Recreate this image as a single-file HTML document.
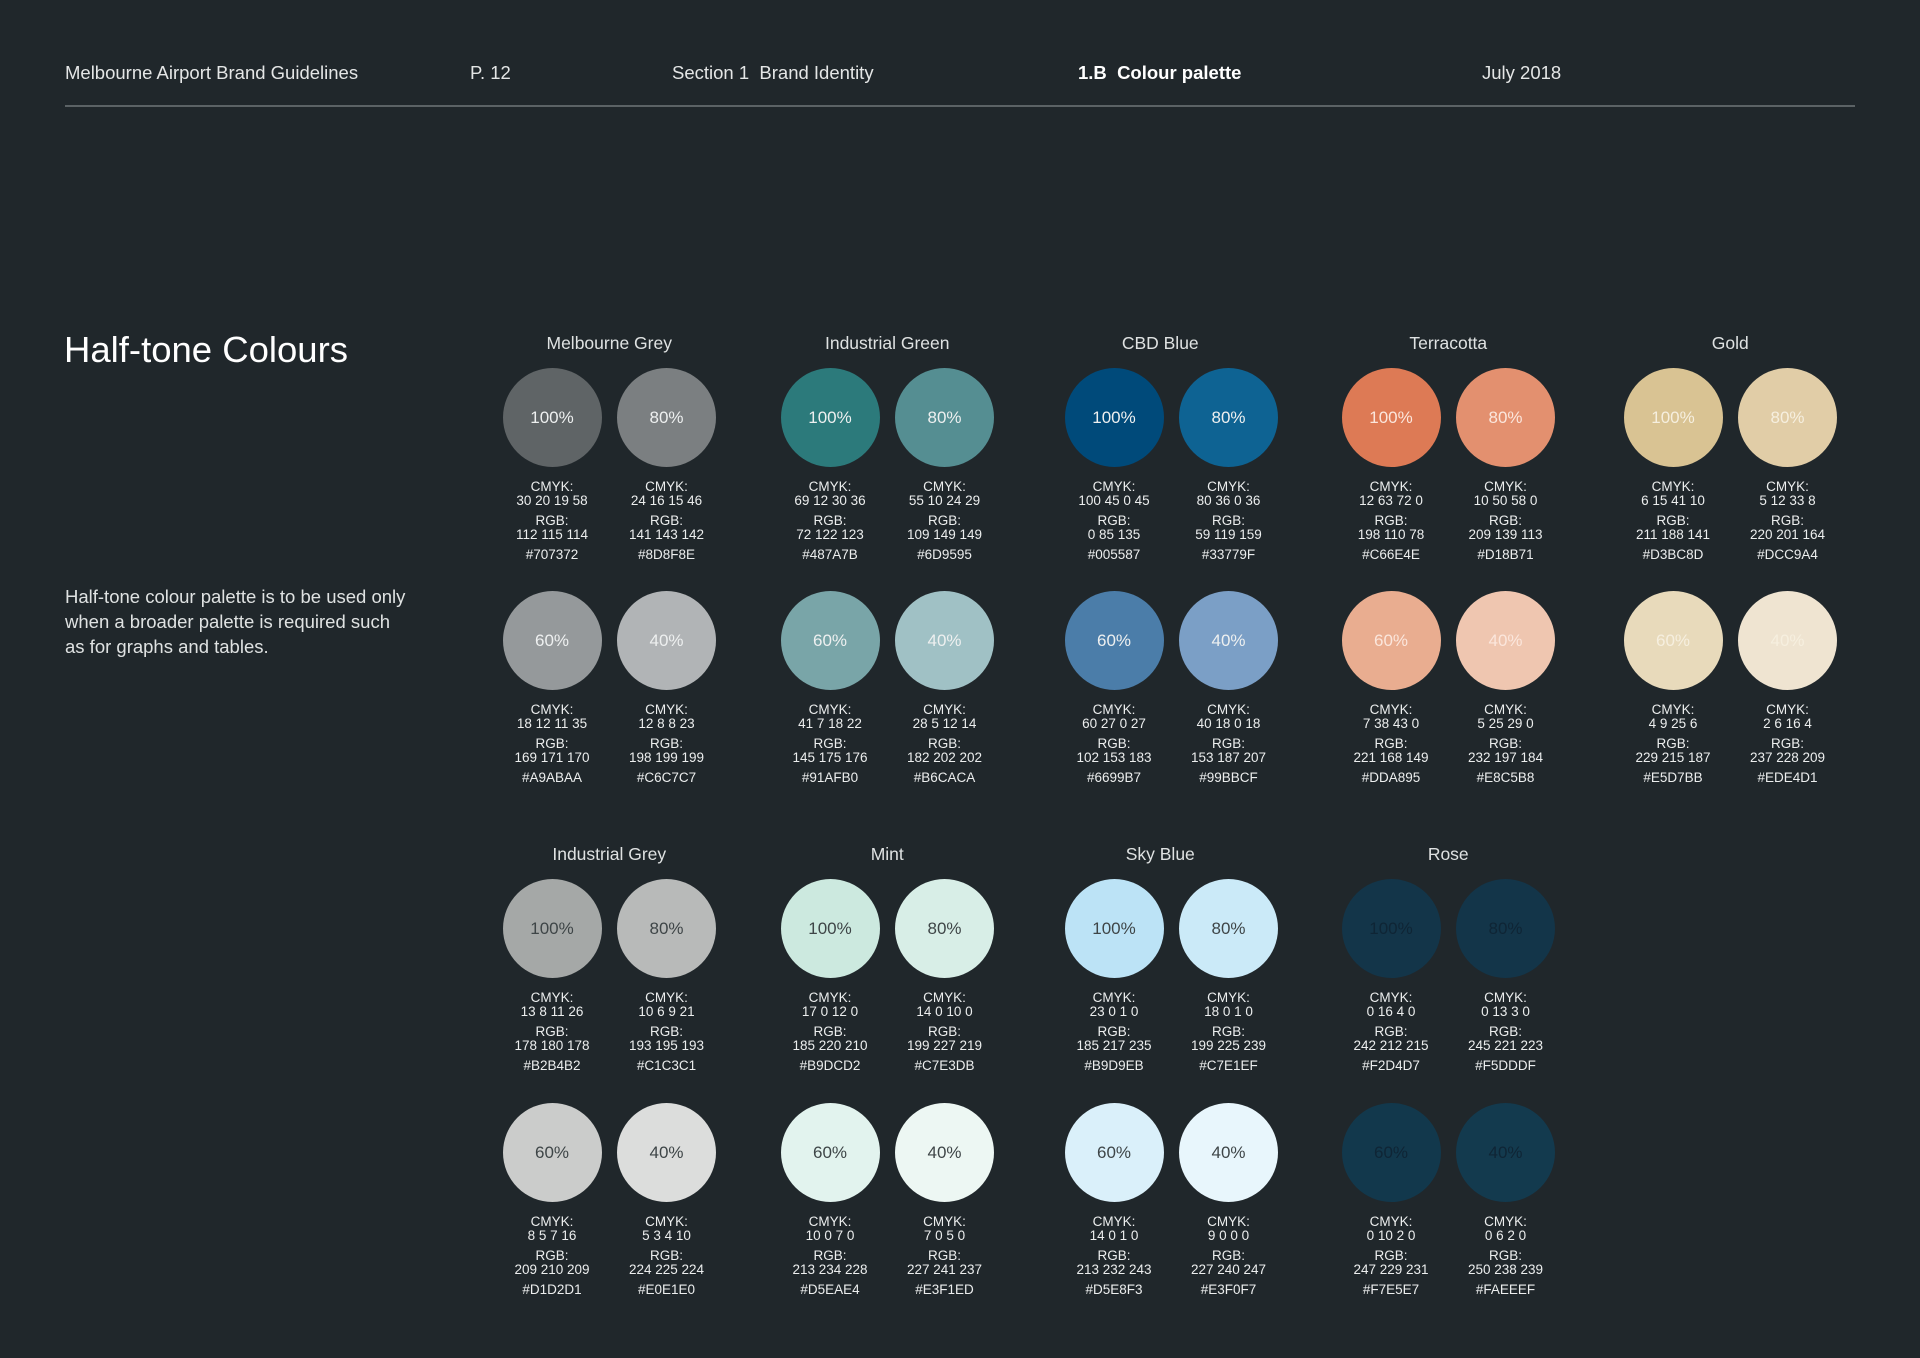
<!DOCTYPE html>
<html><head><meta charset="utf-8">
<style>
html,body{margin:0;padding:0;background:#20272b;}
body{width:1920px;height:1358px;position:relative;overflow:hidden;font-family:"Liberation Sans",sans-serif;color:#e8eaea;}
.t{position:absolute;white-space:nowrap;}
.hd{font-size:18.5px;top:62px;color:#e4e6e6;}
.sw{position:absolute;border-radius:50%;}
.pc{position:absolute;font-size:17px;text-align:center;width:120px;}
.lab{position:absolute;font-size:13.5px;line-height:14px;text-align:center;width:130px;color:#eceeee;}
.gt{position:absolute;font-size:17.5px;text-align:center;width:240px;color:#dfe2e2;}
</style></head><body>
<div class="t hd" style="left:65px">Melbourne Airport Brand Guidelines</div>
<div class="t hd" style="left:470px">P. 12</div>
<div class="t hd" style="left:672px">Section 1&nbsp; Brand Identity</div>
<div class="t hd" style="left:1078px;font-weight:bold;color:#fff">1.B&nbsp; Colour palette</div>
<div class="t hd" style="left:1482px">July 2018</div>
<div style="position:absolute;left:65px;top:105px;width:1790px;height:2px;background:#5b6265"></div>
<div class="t" style="left:64px;top:329px;font-size:36.5px;color:#fff">Half-tone Colours</div>
<div class="t" style="left:65px;top:584px;font-size:18.5px;line-height:25px;color:#dfe2e2">Half-tone colour palette is to be used only<br>when a broader palette is required such<br>as for graphs and tables.</div>
<div id="chart"></div>
<script>
const groupNames=["Melbourne Grey","Industrial Green","CBD Blue","Terracotta","Gold","Industrial Grey","Mint","Sky Blue","Rose"];
const tints=["100%","80%","60%","40%"];
const cmyk=[
["30 20 19 58","24 16 15 46","18 12 11 35","12 8 8 23"],
["69 12 30 36","55 10 24 29","41 7 18 22","28 5 12 14"],
["100 45 0 45","80 36 0 36","60 27 0 27","40 18 0 18"],
["12 63 72 0","10 50 58 0","7 38 43 0","5 25 29 0"],
["6 15 41 10","5 12 33 8","4 9 25 6","2 6 16 4"],
["13 8 11 26","10 6 9 21","8 5 7 16","5 3 4 10"],
["17 0 12 0","14 0 10 0","10 0 7 0","7 0 5 0"],
["23 0 1 0","18 0 1 0","14 0 1 0","9 0 0 0"],
["0 16 4 0","0 13 3 0","0 10 2 0","0 6 2 0"]];
const rgb=[
["112 115 114","141 143 142","169 171 170","198 199 199"],
["72 122 123","109 149 149","145 175 176","182 202 202"],
["0 85 135","59 119 159","102 153 183","153 187 207"],
["198 110 78","209 139 113","221 168 149","232 197 184"],
["211 188 141","220 201 164","229 215 187","237 228 209"],
["178 180 178","193 195 193","209 210 209","224 225 224"],
["185 220 210","199 227 219","213 234 228","227 241 237"],
["185 217 235","199 225 239","213 232 243","227 240 247"],
["242 212 215","245 221 223","247 229 231","250 238 239"]];
const hex=[
["#707372","#8D8F8E","#A9ABAA","#C6C7C7"],
["#487A7B","#6D9595","#91AFB0","#B6CACA"],
["#005587","#33779F","#6699B7","#99BBCF"],
["#C66E4E","#D18B71","#DDA895","#E8C5B8"],
["#D3BC8D","#DCC9A4","#E5D7BB","#EDE4D1"],
["#B2B4B2","#C1C3C1","#D1D2D1","#E0E1E0"],
["#B9DCD2","#C7E3DB","#D5EAE4","#E3F1ED"],
["#B9D9EB","#C7E1EF","#D5E8F3","#E3F0F7"],
["#F2D4D7","#F5DDDF","#F7E5E7","#FAEEEF"]];
const fills=[
["#5f6466","#7b7f81","#95999b","#b1b4b6"],
["#2c7a7b","#558e92","#79a5a8","#a0c1c5"],
["#004a7a","#0e6393","#4b7da9","#7b9fc6"],
["#dd7a55","#e3906f","#e9ad90","#efc6b0"],
["#d9c393","#e1cda7","#e8dabb","#efe4d1"],
["#a5a8a7","#b8bab9","#cbcccb","#dcdddc"],
["#cce9df","#d8eee7","#e2f3ee","#edf7f3"],
["#bce3f6","#cbeaf8","#daf0fa","#e8f6fc"],
["#133549","#133549","#12384c","#133a4e"]];
const textCol=[
["#eef0f0","#eef0f0","#eef0f0","#eef0f0"],
["#eef0f0","#eef0f0","#eef0f0","#eef0f0"],
["#eef0f0","#eef0f0","#eef0f0","#eef0f0"],
["#fbe6dc","#fbe6dc","#fbe6dc","#fbe6dc"],
["#f6efdf","#f6efdf","#f6efdf","#f6efdf"],
["#3e4547","#3e4547","#3e4547","#3e4547"],
["#3e4547","#3e4547","#3e4547","#3e4547"],
["#3e4547","#3e4547","#3e4547","#3e4547"],
["#0f2535","#0f2535","#0f2535","#0f2535"]];

const colX0=[552,830,1114,1391,1673];
const titleDx=[0,0,-11,0,0];
const pairDx=114.5, R=49.5;
const rowY=[[417,640],[928,1152]];
const titleY=[333,844];
const chart=document.getElementById('chart');
function mk(cls,style,txt){const d=document.createElement('div');d.className=cls;d.style.cssText=style;if(txt!==undefined)d.innerHTML=txt;chart.appendChild(d);return d;}
groupNames.forEach((name,g)=>{
  const band=g<5?0:1, col=g<5?g:g-5;
  const cx0=colX0[col];
  const t=mk('gt','left:'+(cx0+pairDx/2-120+titleDx[col])+'px;top:'+titleY[band]+'px',name);
  
  
  tints.forEach((tn,i)=>{
    const cx=cx0+(i%2)*pairDx, cy=rowY[band][Math.floor(i/2)];
    const c=mk('sw','left:'+(cx-R)+'px;top:'+(cy-R)+'px;width:'+(2*R)+'px;height:'+(2*R)+'px;background:'+fills[g][i]);
    
    
    const p=mk('pc','left:'+(cx-60)+'px;top:'+(cy-9)+'px;color:'+textCol[g][i],tn);
    
    
    const l=mk('lab','left:'+(cx-65)+'px;top:'+(cy+63)+'px','CMYK:<br>'+cmyk[g][i]+'<div style="height:6px"></div>RGB:<br>'+rgb[g][i]+'<div style="height:6px"></div>'+hex[g][i]);
    
    
  });
});
</script>
</body></html>
